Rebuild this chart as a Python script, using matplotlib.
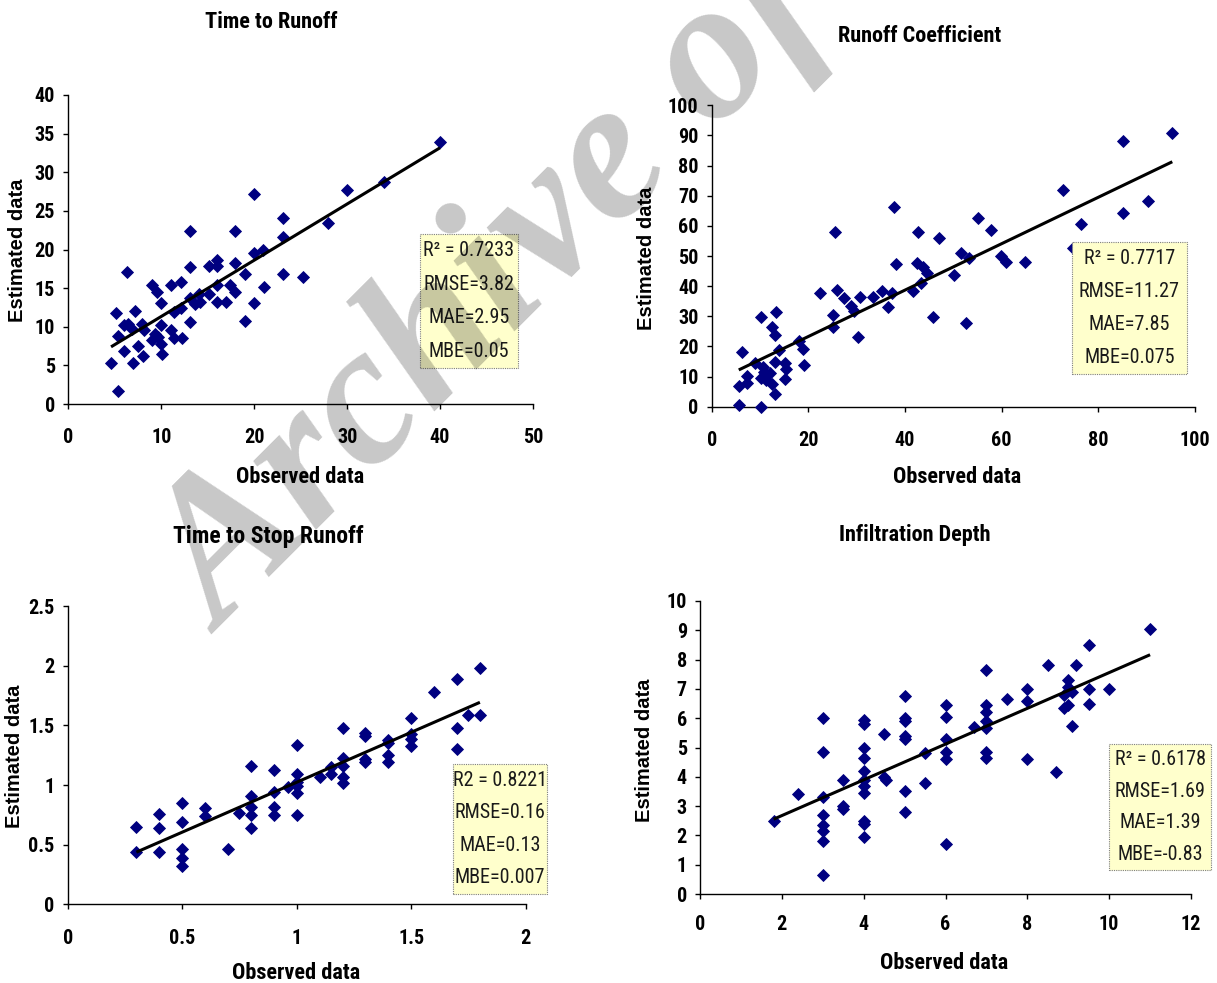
import numpy as np
import matplotlib
matplotlib.use("Agg")
import matplotlib.pyplot as plt
from matplotlib import font_manager as fm
from matplotlib.font_manager import FontProperties
from matplotlib.patches import Rectangle
from matplotlib.ticker import FuncFormatter

# ---------------- data ----------------
titles = ["Time to Runoff", "Runoff Coefficient", "Time to Stop Runoff", "Infiltration Depth"]

obs1 = [4.6, 5.4, 5.1, 5.3, 6.0, 6.0, 6.3, 6.4, 6.9, 7.0, 7.2, 7.5, 7.9, 8.0, 8.1, 9.0, 9.0, 9.5, 9.3, 9.6,
        10.0, 10.0, 10.0, 10.1, 11.1, 11.1, 11.4, 11.4, 12.1, 12.1, 12.2, 13.1, 13.1, 13.1, 13.1, 13.6, 14.1,
        14.2, 15.1, 15.1, 16.0, 16.0, 16.0, 16.0, 17.0, 17.4, 17.9, 17.9, 17.9, 19.0, 19.0, 20.0, 20.0, 20.0,
        21.0, 21.1, 23.1, 23.1, 23.1, 25.2, 27.9, 30.0, 34.0, 40.0]
est1 = [5.3, 1.7, 11.8, 8.8, 6.8, 10.2, 17.1, 10.4, 9.7, 5.3, 12.1, 7.5, 10.4, 6.2, 9.6, 8.3, 15.4, 14.5, 9.1, 8.7,
        13.1, 10.2, 7.8, 6.5, 15.4, 9.6, 8.6, 11.9, 15.8, 12.4, 8.5, 22.4, 17.7, 13.7, 10.6, 13.0, 14.3,
        13.2, 17.8, 14.3, 18.7, 17.8, 15.4, 13.2, 13.2, 15.4, 22.4, 18.2, 14.5, 16.8, 10.8, 27.2, 19.6, 13.1,
        20.0, 15.1, 24.1, 21.6, 16.8, 16.4, 23.4, 27.7, 28.8, 33.9]

obs2 = [5.6, 10.1, 5.6, 6.2, 7.3, 7.3, 8.9, 10.1, 10.1, 10.6, 10.9, 11.3, 12.0, 12.5, 13.0, 12.5, 13.0, 13.4,
        13.2, 13.9, 15.1, 15.4, 15.1, 18.1, 18.8, 19.0, 22.5, 25.0, 25.0, 25.6, 26.0, 27.3, 28.9, 29.4, 30.3,
        30.7, 33.3, 35.2, 36.5, 37.4, 37.8, 38.1, 41.6, 42.6, 42.4, 43.3, 43.7, 44.5, 45.7, 47.1, 50.2, 51.6,
        53.3, 52.6, 55.1, 57.8, 59.9, 60.9, 64.9, 72.7, 74.8, 76.5, 85.0, 85.0, 90.2, 95.3]
est2 = [0.6, 0.0, 6.9, 18.3, 10.2, 8.0, 14.6, 29.6, 9.4, 13.3, 11.6, 8.8, 11.1, 7.5, 4.2, 26.3, 23.8, 31.5,
        14.9, 18.8, 14.6, 12.4, 9.1, 21.9, 19.0, 13.8, 37.8, 30.4, 26.3, 58.1, 38.7, 36.0, 33.4, 31.9, 23.2,
        36.5, 36.3, 38.5, 33.2, 37.6, 66.4, 47.3, 38.5, 58.1, 47.6, 41.2, 46.2, 44.2, 29.6, 56.1, 43.7, 51.1,
        49.2, 27.7, 62.5, 58.6, 50.0, 48.1, 47.9, 71.9, 52.6, 60.5, 88.3, 64.4, 68.2, 90.9]

obs3 = [0.3, 0.3, 0.4, 0.4, 0.4, 0.5, 0.5, 0.5, 0.5, 0.5, 0.6, 0.6, 0.7, 0.75, 0.8, 0.8, 0.8, 0.8, 0.8,
        0.9, 0.9, 0.9, 0.9, 0.96, 1.0, 1.0, 1.0, 1.0, 1.0, 1.0, 1.1, 1.15, 1.15, 1.2, 1.2, 1.2, 1.2, 1.2,
        1.3, 1.3, 1.3, 1.3, 1.4, 1.4, 1.4, 1.4, 1.5, 1.5, 1.5, 1.5, 1.6, 1.7, 1.7, 1.7, 1.75, 1.8, 1.8]
est3 = [0.65, 0.44, 0.76, 0.64, 0.44, 0.85, 0.69, 0.46, 0.39, 0.32, 0.81, 0.74, 0.46, 0.77, 1.16, 0.91, 0.82,
        0.75, 0.64, 1.13, 0.94, 0.82, 0.75, 0.98, 1.34, 1.09, 1.03, 0.99, 0.93, 0.75, 1.07, 1.15, 1.09, 1.48,
        1.23, 1.16, 1.07, 1.02, 1.44, 1.41, 1.22, 1.19, 1.38, 1.35, 1.25, 1.19, 1.56, 1.43, 1.39, 1.33, 1.78,
        1.89, 1.48, 1.30, 1.59, 1.98, 1.59]

obs4 = [1.8, 2.4, 3.0, 3.0, 3.0, 3.0, 3.0, 3.0, 3.0, 3.0, 3.5, 3.5, 3.5, 4.0, 4.0, 4.0, 4.0, 4.0, 4.0, 4.0,
        4.0, 4.0, 4.0, 4.0, 4.5, 4.5, 4.55, 5.0, 5.0, 5.0, 5.0, 5.0, 5.0, 5.0, 5.5, 5.5, 6.0, 6.0, 6.0, 6.0,
        6.0, 6.0, 6.7, 7.0, 7.0, 7.0, 7.0, 7.0, 7.0, 7.0, 7.5, 8.0, 8.0, 8.0, 8.5, 8.7, 8.9, 8.9, 9.0, 9.0,
        9.0, 9.1, 9.1, 9.2, 9.5, 9.5, 9.5, 10.0, 11.0]
est4 = [2.5, 3.4, 6.0, 4.85, 3.3, 2.7, 2.35, 2.15, 1.8, 0.65, 3.9, 3.0, 2.9, 5.95, 5.8, 5.0, 4.65, 4.2, 3.9, 3.7,
        3.45, 2.5, 2.4, 1.95, 5.45, 4.0, 3.9, 6.75, 6.0, 5.9, 5.4, 5.3, 3.5, 2.8, 4.8, 3.8, 6.45, 6.05, 5.3,
        4.85, 4.6, 1.7, 5.7, 7.65, 6.45, 6.2, 5.9, 5.65, 4.85, 4.65, 6.65, 7.0, 6.6, 4.6, 7.8, 4.15, 6.35, 6.8,
        7.3, 7.05, 6.45, 6.9, 5.75, 7.8, 8.5, 7.0, 6.5, 7.0, 9.05]

# trend lines (slope, intercept)
trend_slope = [0.728, 0.770, 0.838, 0.610]
trend_icpt = [4.05, 7.89, 0.186, 1.456]

stats = [
    ["R\u00b2 = 0.7233", "RMSE=3.82", "MAE=2.95", "MBE=0.05"],
    ["R\u00b2 = 0.7717", "RMSE=11.27", "MAE=7.85", "MBE=0.075"],
    ["R2 = 0.8221", "RMSE=0.16", "MAE=0.13", "MBE=0.007"],
    ["R\u00b2 = 0.6178", "RMSE=1.69", "MAE=1.39", "MBE=-0.83"],
]

xlims = [(0, 50), (0, 100), (0, 2), (0, 12)]
ylims = [(0, 40), (0, 100), (0, 2.5), (0, 10)]
xticks = [np.arange(0, 51, 10), np.arange(0, 101, 20), np.arange(0, 2.01, 0.5), np.arange(0, 13, 2)]
yticks = [np.arange(0, 41, 5), np.arange(0, 101, 10), np.arange(0, 2.51, 0.5), np.arange(0, 11, 1)]

# ---------------- fonts ----------------
entries = fm.fontManager.ttflist
cands = ["Liberation Sans Narrow", "Arial Narrow", "Roboto Condensed", "Archivo Narrow", "PT Sans Narrow",
         "IBM Plex Sans Condensed", "Fira Sans Condensed", "Open Sans Condensed", "Sofia Sans Semi Condensed",
         "Saira SemiCondensed"]
NARROW = None
for c in cands:
    ws = [f.weight for f in entries if f.name == c]
    if ws:
        NARROW = c
        break
if NARROW is not None:
    NB = FontProperties(family=NARROW, weight="bold")
    NR = FontProperties(family=NARROW, weight="normal")
else:
    NB = FontProperties(family="DejaVu Sans", stretch="condensed", weight="bold")
    NR = FontProperties(family="DejaVu Sans", stretch="condensed", weight="normal")


def fp(base, size):
    f = base.copy()
    f.set_size(size)
    return f


W, H = 1217, 983
fig = plt.figure(figsize=(W / 100, H / 100), dpi=100)
fig.patch.set_facecolor("white")


def fx(x):
    return x / W


def fy(y):
    return 1 - y / H


# axes pixel boxes: (x_left, x_right, y_bottom, y_top)
boxes = [(68.3, 533, 404, 95), (711.7, 1195, 406.7, 105.3), (67.7, 525.7, 904.3, 606.3), (700, 1191, 894, 601)]
title_pos = [(271, 22), (920, 36), (268, 536), (915, 535)]
title_size = [16, 16, 17, 16]
xlabel_pos = [(300, 477), (957, 477), (296, 973), (944, 963)]
ylabel_pos = [(18, 250), (646, 258), (15, 756), (645, 750)]
xpad = [14, 14, 14, 11.5]
stat_boxes = [(420.3, 517.7, 234, 368.3), (1072.3, 1186.7, 242.3, 374), (453.3, 546.7, 764, 894),
              (1109.3, 1211, 744, 870)]

data = [(obs1, est1), (obs2, est2), (obs3, est3), (obs4, est4)]
fmt = FuncFormatter(lambda v, p: "%g" % v)

for i in range(4):
    xl, xr, yb, yt = boxes[i]
    ax = fig.add_axes([fx(xl), fy(yb), (xr - xl) / W, (yb - yt) / H])
    ox, ey = data[i]
    ax.plot(ox, ey, linestyle="none", marker="D", markersize=6.0, markerfacecolor="#000080",
            markeredgecolor="#000080", markeredgewidth=0.6, clip_on=False, zorder=3)
    xs = np.array([min(ox), max(ox)])
    ax.plot(xs, trend_slope[i] * xs + trend_icpt[i], color="black", lw=2.2, zorder=4,
            solid_capstyle="butt")
    ax.set_xlim(*xlims[i])
    ax.set_ylim(*ylims[i])
    ax.set_xticks(xticks[i])
    ax.set_yticks(yticks[i])
    ax.xaxis.set_major_formatter(fmt)
    ax.yaxis.set_major_formatter(fmt)
    for s in ["top", "right"]:
        ax.spines[s].set_visible(False)
    for s in ["left", "bottom"]:
        ax.spines[s].set_linewidth(1.0)
    ax.tick_params(axis="both", direction="out", length=3.5, width=1.0, colors="black")
    ax.tick_params(axis="x", pad=xpad[i])
    ax.tick_params(axis="y", pad=6)
    for lab in ax.get_xticklabels() + ax.get_yticklabels():
        lab.set_fontproperties(fp(NB, 14.5))
    ax.set_facecolor("none")

    fig.text(fx(title_pos[i][0]), fy(title_pos[i][1]), titles[i], ha="center", va="center",
             fontproperties=fp(NB, title_size[i]))
    fig.text(fx(xlabel_pos[i][0]), fy(xlabel_pos[i][1]), "Observed data", ha="center", va="center",
             fontproperties=fp(NB, 16))
    fig.text(fx(ylabel_pos[i][0]), fy(ylabel_pos[i][1]), "Estimated data", ha="center", va="center",
             rotation=90, family="Liberation Sans", weight="bold", size=14.5)

    bl, br, bt, bb = stat_boxes[i]
    rect = Rectangle((fx(bl), fy(bb)), (br - bl) / W, (bb - bt) / H, transform=fig.transFigure,
                     facecolor="#FFFFCC", edgecolor="#7f7f7f", linestyle=(0, (1, 1)), linewidth=0.8,
                     zorder=5)
    fig.add_artist(rect)
    cx = (bl + br) / 2
    n = len(stats[i])
    step = (bb - bt) / n
    for k, line in enumerate(stats[i]):
        cy = bt + step * (k + 0.5)
        fig.text(fx(cx), fy(cy), line, ha="center", va="center", fontproperties=fp(NR, 14.5),
                 zorder=6, color="#1a1a1a")

# watermark
fig.text(fx(222), fy(635), "Archive of SID", rotation=45, rotation_mode="anchor", ha="left",
         va="baseline", family="Liberation Serif", weight="bold", style="italic", size=145,
         color="black", alpha=0.22, zorder=10)

fig.savefig("out.png", dpi=100, facecolor="white")
